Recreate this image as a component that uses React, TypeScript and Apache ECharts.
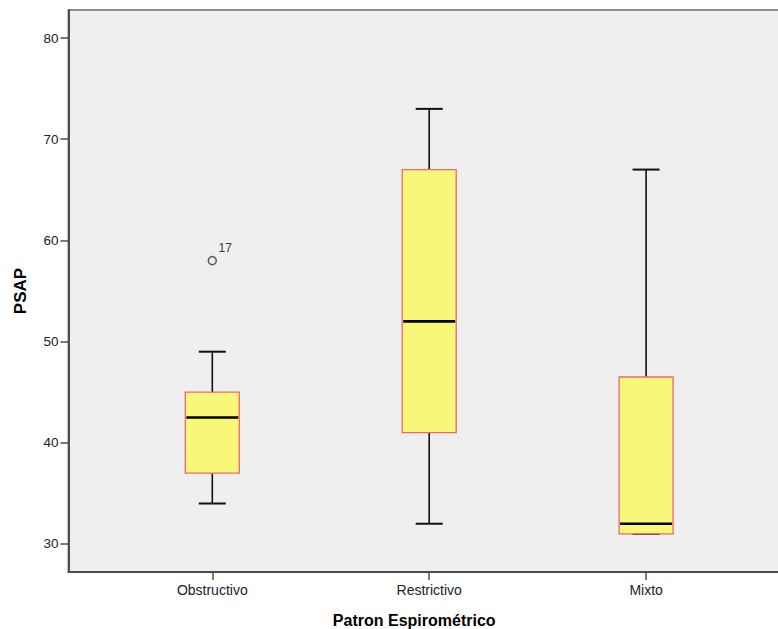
import React, { useEffect, useRef } from "react";
import * as echarts from "echarts";

const categories = ["Obstructivo", "Restrictivo", "Mixto"];
const whiskerLow = [34, 32, 31];
const q1 = [37, 41, 31];
const median = [42.5, 52, 32];
const q3 = [45, 67, 46.5];
const whiskerHigh = [49, 73, 67];
// outliers: [category index, value, case label]
const outlierCategory = [0];
const outlierValue = [58];
const outlierLabel = ["17"];
const yTicks = [30, 40, 50, 60, 70, 80];

const FONT = 'Arial, "Liberation Sans", sans-serif';

export default function App() {
  const ref = useRef<HTMLDivElement>(null);
  useEffect(() => {
    if (!ref.current) return;
    const chart = echarts.init(ref.current, null, { renderer: "svg" });
    const boxData = categories.map((_, i) => [i, whiskerLow[i], q1[i], median[i], q3[i], whiskerHigh[i]]);
    const outData = outlierCategory.map((c, i) => ({ value: [c, outlierValue[i]], name: outlierLabel[i] }));
    chart.setOption({
      animation: false,
      backgroundColor: "#ffffff",
      grid: {
        left: 68.5,
        top: 10,
        width: 721.4,
        height: 562,
        outerBoundsMode: "none",
        containLabel: false,
        show: true,
        backgroundColor: "#efefef",
        borderColor: "#8c8c8c",
        borderWidth: 2,
      },
      xAxis: {
        type: "value",
        min: -0.663,
        max: 2.663,
        splitLine: { show: false },
        axisLine: { show: true, onZero: false, lineStyle: { color: "#4d4d4d", width: 2 } },
        axisTick: { show: true, length: 8, customValues: [0, 1, 2], lineStyle: { color: "#4d4d4d", width: 1.5 } },
        axisLabel: {
          customValues: [0, 1, 2],
          formatter: (v: number) => categories[Math.round(v)] ?? "",
          color: "#222",
          fontFamily: FONT,
          fontSize: 14,
          margin: 11,
        },
        name: "Patron Espirométrico",
        nameLocation: "middle",
        nameGap: 40,
        nameTextStyle: {
          fontFamily: FONT,
          fontWeight: "bold",
          fontSize: 16,
          color: "#000",
          padding: [0, 30, 0, 0],
        },
      },
      yAxis: {
        type: "value",
        min: 27.23,
        max: 82.77,
        splitLine: { show: false },
        axisLine: { show: true, onZero: false, lineStyle: { color: "#4d4d4d", width: 2 } },
        axisTick: { show: true, length: 8, customValues: yTicks, lineStyle: { color: "#4d4d4d", width: 1.5 } },
        axisLabel: {
          customValues: yTicks,
          color: "#222",
          fontFamily: FONT,
          fontSize: 13.5,
          margin: 10,
        },
        name: "PSAP",
        nameLocation: "middle",
        nameGap: 40,
        nameTextStyle: {
          fontFamily: FONT,
          fontWeight: "bold",
          fontSize: 17,
          color: "#000",
        },
      },
      series: [
        {
          type: "custom",
          data: boxData,
          encode: { x: 0, y: [1, 2, 3, 4, 5] },
          renderItem: (params: any, api: any) => {
            const x = api.value(0);
            const lo = api.coord([x, api.value(1)]);
            const b1 = api.coord([x, api.value(2)]);
            const md = api.coord([x, api.value(3)]);
            const b3 = api.coord([x, api.value(4)]);
            const hi = api.coord([x, api.value(5)]);
            const cx = lo[0];
            const bw = 54;
            const cw = 27;
            return {
              type: "group",
              children: [
                { type: "line", shape: { x1: cx, y1: hi[1], x2: cx, y2: lo[1] }, style: { stroke: "#111", lineWidth: 1.6 } },
                { type: "line", shape: { x1: cx - cw / 2, y1: hi[1], x2: cx + cw / 2, y2: hi[1] }, style: { stroke: "#111", lineWidth: 2 } },
                { type: "line", shape: { x1: cx - cw / 2, y1: lo[1], x2: cx + cw / 2, y2: lo[1] }, style: { stroke: "#111", lineWidth: 2 } },
                {
                  type: "rect",
                  shape: { x: cx - bw / 2, y: b3[1], width: bw, height: b1[1] - b3[1] },
                  style: { fill: "#f9f77a", stroke: "#f06868", lineWidth: 1.3 },
                },
                { type: "line", shape: { x1: cx - bw / 2 + 1, y1: md[1], x2: cx + bw / 2 - 1, y2: md[1] }, style: { stroke: "#000", lineWidth: 2.6 } },
              ],
            };
          },
        },
        {
          type: "scatter",
          data: outData,
          symbol: "circle",
          symbolSize: 8,
          itemStyle: { color: "rgba(0,0,0,0)", borderColor: "#333", borderWidth: 1.5 },
          label: {
            show: true,
            formatter: (p: any) => p.name,
            position: [11, -14],
            align: "left",
            verticalAlign: "top",
            fontFamily: FONT,
            fontSize: 12,
            color: "#000",
          },
        },
      ],
    });
    return () => chart.dispose();
  }, []);
  return (
    <div
      ref={ref}
      style={{ position: "fixed", left: 0, top: 0, width: 778, height: 629, background: "#fff" }}
    />
  );
}
